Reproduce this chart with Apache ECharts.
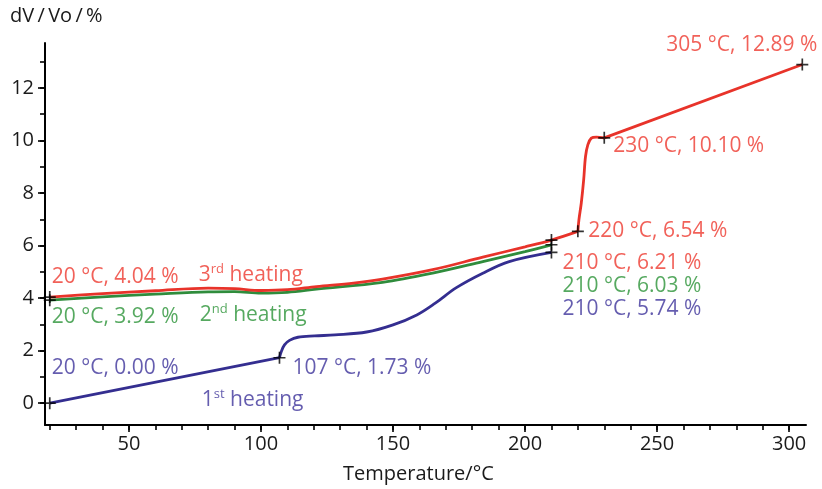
<!DOCTYPE html>
<html><head><meta charset="utf-8">
<script src="https://cdn.jsdelivr.net/npm/echarts@6/dist/echarts.min.js"></script>
<style>html,body{margin:0;padding:0;background:#fff}#c{width:822px;height:489px}</style>
</head><body><div id="c"></div>
<script>
// ---- data ----
const xTickLabels = [50, 100, 150, 200, 250, 300];
const xMinorTicks = [20, 30, 40, 50, 60, 70, 80, 90, 100, 110, 120, 130, 140, 150, 160, 170, 180, 190, 200, 210, 220, 230, 240, 250, 260, 270, 280, 290, 300];
const yTickLabels = [0, 2, 4, 6, 8, 10, 12];
const yMinorTicks = [0, 1, 2, 3, 4, 5, 6, 7, 8, 9, 10, 11, 12, 13];

// 1st heating (blue)
const heat1Linear = [[20, 0.00], [107, 1.73]];
const heat1Curve = [[107, 1.73], [107.7, 1.97], [108.9, 2.22], [110.8, 2.39], [114, 2.51], [120.3, 2.56], [128, 2.60], [140, 2.71], [150, 2.98], [159, 3.36], [166, 3.81], [174, 4.40], [184, 4.95], [194, 5.39], [210, 5.74]];
// 2nd heating (green)
const heat2Curve = [[20, 3.92], [40, 4.05], [60, 4.15], [80, 4.24], [90, 4.25], [100, 4.19], [110, 4.22], [121, 4.34], [146, 4.60], [165, 4.95], [184, 5.39], [200, 5.77], [210, 6.03]];
// 3rd heating (red)
const heat3Curve = [[20, 4.04], [40, 4.17], [60, 4.28], [80, 4.38], [90, 4.36], [100, 4.29], [110, 4.32], [121, 4.44], [135, 4.57], [146, 4.72], [165, 5.08], [184, 5.56], [200, 5.95], [210, 6.21], [220, 6.54]];
const heat3Jump = [[220, 6.54], [220.4, 6.98], [221.3, 7.62], [222.2, 8.50], [222.9, 9.39], [223.8, 9.84], [225.1, 10.09], [227, 10.13], [230, 10.10]];
const heat3Linear = [[230, 10.10], [305, 12.89]];

// marked points
const markers = [[20, 0.00], [107, 1.73], [210, 5.74], [20, 3.92], [210, 6.03], [20, 4.04], [210, 6.21], [220, 6.54], [230, 10.10], [305, 12.89]];

// annotation texts
const blueNotes = ['20 °C, 0.00 %', '107 °C, 1.73 %', '210 °C, 5.74 %'];
const greenNotes = ['20 °C, 3.92 %', '210 °C, 6.03 %'];
const redNotes = ['20 °C, 4.04 %', '210 °C, 6.21 %', '220 °C, 6.54 %', '230 °C, 10.10 %', '305 °C, 12.89 %'];
const heatingNames = [['1', 'st', ' heating'], ['2', 'nd', ' heating'], ['3', 'rd', ' heating']];
const yTitle = 'dV\u2009/\u2009Vo\u2009/\u2009%';
const xTitle = 'Temperature/°C';

// ---- styles ----
const FONT = 'Open Sans';
const NOTE_SIZE = 21;
const C_RED = '#e8332a', C_GREEN = '#2f8c3c', C_BLUE = '#342e90';
const T_RED = '#ee3a30', T_GREEN = '#2c9338', T_BLUE = '#3f359b';

function note(point, text, color, dx, dy) {
  return {
    value: point,
    label: {
      show: true, position: 'inside', align: 'left', verticalAlign: 'middle',
      offset: [dx, dy], formatter: text, color: color, fontSize: NOTE_SIZE, fontFamily: FONT
    }
  };
}
function heatNote(point, parts, color, dx, dy) {
  return {
    value: point,
    label: {
      show: true, position: 'inside', align: 'left', verticalAlign: 'middle',
      offset: [dx, dy],
      formatter: '{m|' + parts[0] + '}{s|' + parts[1] + '}{m|' + parts[2] + '}',
      rich: {
        m: { fontSize: NOTE_SIZE, lineHeight: 24, color: color, fontFamily: FONT },
        s: { fontSize: 13, lineHeight: 18, verticalAlign: 'top', color: color, fontFamily: FONT }
      }
    }
  };
}

const lineBase = { type: 'line', showSymbol: false, symbol: 'none', xAxisIndex: 0, yAxisIndex: 0, silent: true };

const option = {
  animation: false,
  grid: { left: 45, right: 16, top: 43, bottom: 64, containLabel: false },
  xAxis: [
    {
      type: 'value', min: 18.2, max: 306.4, position: 'bottom',
      axisLine: { show: true, onZero: false, lineStyle: { color: '#000', width: 2 } },
      axisTick: { show: true, customValues: xTickLabels, length: 7, lineStyle: { color: '#000', width: 1.6 } },
      axisLabel: { show: true, customValues: xTickLabels, color: '#1a1a1a', fontSize: 20, fontFamily: FONT, margin: 9 },
      splitLine: { show: false }
    },
    {
      type: 'value', min: 18.2, max: 306.4, position: 'bottom',
      axisLine: { show: false, onZero: false },
      axisTick: { show: true, customValues: xMinorTicks, length: 5, lineStyle: { color: '#000', width: 1.6 } },
      axisLabel: { show: false },
      splitLine: { show: false }
    }
  ],
  yAxis: [
    {
      type: 'value', min: -0.83, max: 13.71, position: 'left',
      axisLine: { show: true, onZero: false, lineStyle: { color: '#000', width: 2 } },
      axisTick: { show: true, customValues: yTickLabels, length: 7, lineStyle: { color: '#000', width: 1.6 } },
      axisLabel: { show: true, customValues: yTickLabels, color: '#1a1a1a', fontSize: 20, fontFamily: FONT, margin: 11 },
      splitLine: { show: false }
    },
    {
      type: 'value', min: -0.83, max: 13.71, position: 'left',
      axisLine: { show: false, onZero: false },
      axisTick: { show: true, customValues: yMinorTicks, length: 5, lineStyle: { color: '#000', width: 1.6 } },
      axisLabel: { show: false },
      splitLine: { show: false }
    }
  ],
  graphic: [
    { type: 'text', left: 10, top: 6, style: { text: yTitle, fill: '#1a1a1a', font: '20px "' + FONT + '"' } },
    { type: 'text', left: 343, top: 464, style: { text: xTitle, fill: '#1a1a1a', font: '20px "' + FONT + '"' } }
  ],
  series: [
    Object.assign({}, lineBase, { name: '1st linear', data: heat1Linear, smooth: false, lineStyle: { color: C_BLUE, width: 2.8 } }),
    Object.assign({}, lineBase, { name: '1st curve', data: heat1Curve, smooth: 0.35, lineStyle: { color: C_BLUE, width: 2.8 } }),
    Object.assign({}, lineBase, { name: '2nd', data: heat2Curve, smooth: 0.35, lineStyle: { color: C_GREEN, width: 2.8 } }),
    Object.assign({}, lineBase, { name: '3rd curve', data: heat3Curve, smooth: 0.35, lineStyle: { color: C_RED, width: 2.8 } }),
    Object.assign({}, lineBase, { name: '3rd jump', data: heat3Jump, smooth: 0.35, lineStyle: { color: C_RED, width: 2.8 } }),
    Object.assign({}, lineBase, { name: '3rd linear', data: heat3Linear, smooth: false, lineStyle: { color: C_RED, width: 2.8 } }),
    {
      type: 'scatter', name: 'markers', data: markers, silent: true, z: 5,
      symbol: 'path://M4.3,0H5.7V4.3H10V5.7H5.7V10H4.3V5.7H0V4.3H4.3Z', symbolSize: 12,
      itemStyle: { color: '#000' }
    },
    {
      type: 'scatter', name: 'notes', silent: true, z: 6, symbolSize: 1,
      itemStyle: { color: 'rgba(0,0,0,0)' },
      data: [
        note(markers[0], blueNotes[0], T_BLUE, 2, -35),
        note(markers[1], blueNotes[1], T_BLUE, 13, 10),
        note(markers[2], blueNotes[2], T_BLUE, 11, 57),
        note(markers[3], greenNotes[0], T_GREEN, 2, 17),
        note(markers[4], greenNotes[1], T_GREEN, 11, 41),
        note(markers[5], redNotes[0], T_RED, 2, -20.5),
        note(markers[6], redNotes[1], T_RED, 11, 23),
        note(markers[7], redNotes[2], T_RED, 10.5, 0),
        note(markers[8], redNotes[3], T_RED, 9, 8.5),
        note(markers[9], redNotes[4], T_RED, -136, -20),
        heatNote(markers[0], heatingNames[0], T_BLUE, 152, -3),
        heatNote(markers[3], heatingNames[1], T_GREEN, 150, 14.6),
        heatNote(markers[5], heatingNames[2], T_RED, 149, -22)
      ]
    }
  ]
};
const chart = echarts.init(document.getElementById('c'), null, { renderer: 'canvas' });
chart.setOption(option);
</script>
</body></html>
